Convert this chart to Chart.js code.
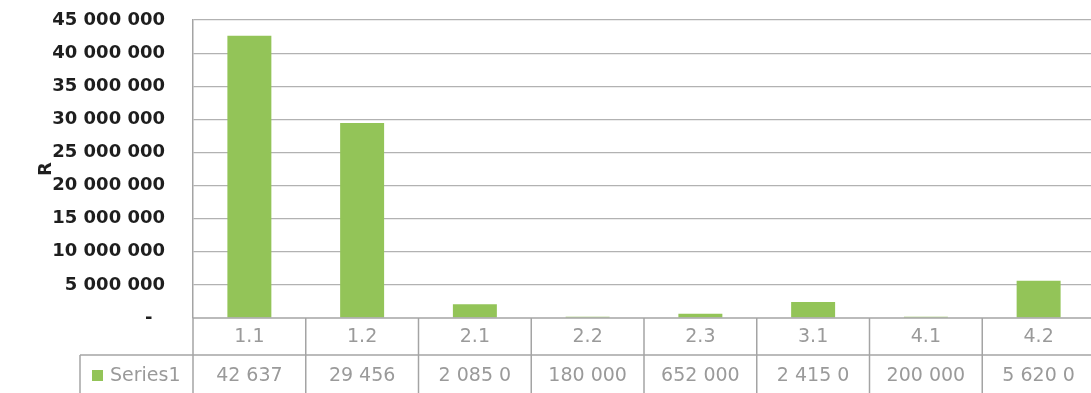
<!DOCTYPE html>
<html>
<head>
<meta charset="utf-8">
<script src="https://cdn.jsdelivr.net/npm/chart.js@4.4.1/dist/chart.umd.min.js"></script>
<style>
  html, body { margin: 0; padding: 0; background: #fff; overflow: hidden; }
  #wrap { width: 1100px; height: 393px; }
</style>
</head>
<body>
<div id="wrap"><canvas id="costChart" width="1100" height="393"></canvas></div>
<script>
// ================= DATA =================

const categories = ["1.1", "1.2", "2.1", "2.2", "2.3", "3.1", "4.1", "4.2"];
const seriesName = "Series1";
const seriesValues = [42637000, 29456000, 2085000, 180000, 652000, 2415000, 200000, 5620000];
const yTicks = [0, 5000000, 10000000, 15000000, 20000000, 25000000, 30000000, 35000000, 40000000, 45000000];

const barColor = "#93c458";
const lineColor = "#a4a4a4";
const tableText = "#9a9a9a";

// thousands separated by spaces, e.g. 5 000 000
function fmt(v) {
  return String(v).replace(/\B(?=(\d{3})+(?!\d))/g, " ");
}

// cut a cell text down until it fits, like a narrow spreadsheet column
function fitText(ctx, text, maxW) {
  let t = text;
  while (t.length > 1 && ctx.measureText(t).width > maxW) {
    t = t.slice(0, -1).trimEnd();
  }
  return t;
}

// ================= DATA TABLE UNDER THE AXIS =================

const dataTable = {
  id: "dataTable",
  afterDraw(chart) {
    const { ctx, chartArea } = chart;
    const x = chart.scales.x;
    const n = categories.length;
    const colW = (x.right - x.left) / n;
    const row1Top = chartArea.bottom;
    const row2Top = row1Top + 37;
    const bottom = chart.height;
    const keyLeft = 80;

    const line = (x1, y1, x2, y2) => {
      ctx.beginPath();
      ctx.moveTo(x1, y1);
      ctx.lineTo(x2, y2);
      ctx.stroke();
    };

    ctx.save();
    ctx.strokeStyle = lineColor;
    ctx.lineWidth = 1.5;
    line(x.left, row1Top, x.right, row1Top);
    line(keyLeft, row2Top, x.right, row2Top);
    for (let i = 0; i <= n; i++) {
      const xi = x.left + i * colW;
      line(xi, row1Top, xi, bottom);
    }
    line(keyLeft, row2Top, keyLeft, bottom);

    ctx.font = "19px 'DejaVu Sans'";
    ctx.fillStyle = tableText;
    ctx.textAlign = "center";
    ctx.textBaseline = "middle";
    categories.forEach((c, i) => {
      ctx.fillText(c, x.getPixelForValue(i), row1Top + 19);
    });
    seriesValues.forEach((v, i) => {
      ctx.fillText(fitText(ctx, fmt(v), 81), x.getPixelForValue(i), row2Top + 21);
    });

    // legend key + series name in the first cell
    ctx.fillStyle = barColor;
    ctx.fillRect(keyLeft + 12, row2Top + 15, 11, 11);
    ctx.fillStyle = tableText;
    ctx.textAlign = "left";
    ctx.fillText(seriesName, keyLeft + 30, row2Top + 21);
    ctx.restore();
  }
};

// ================= CHART =================

const ctx = document.getElementById("costChart").getContext("2d");
const costChart = new Chart(ctx, {
  type: "bar",
  data: {
    labels: categories,
    datasets: [{
      label: seriesName,
      data: seriesValues,
      backgroundColor: barColor,
      borderWidth: 0,
      categoryPercentage: 1,
      barPercentage: 0.39
    }]
  },
  options: {
    responsive: false,
    devicePixelRatio: 1,
    animation: false,
    layout: { padding: { left: 30, top: 20, right: 5, bottom: 75 } },
    plugins: {
      legend: { display: false },
      tooltip: { enabled: false }
    },
    scales: {
      x: { display: false },
      y: {
        min: 0,
        max: 45000000,
        afterBuildTicks: (scale) => { scale.ticks = yTicks.map(v => ({ value: v })); },
        afterFit: (scale) => {
          scale.width = 163;
          // let the layout padding alone decide where the plot starts
          scale.paddingTop = 0;
          scale.paddingBottom = 0;
        },
        ticks: {
          padding: 28,
          color: "#1e1e1e",
          font: { family: "DejaVu Sans", size: 18, weight: "bold" },
          callback: (v) => v === 0 ? "-  " : fmt(v)
        },
        grid: {
          drawTicks: false,
          lineWidth: 1.2,
          color: (c) => c.tick.value === 0 ? "rgba(0,0,0,0)" : "#b2b2b2"
        },
        border: { display: true, color: lineColor, width: 1.5 },
        title: {
          display: true,
          text: "R",
          color: "#1e1e1e",
          padding: { top: 6, bottom: 0 },
          font: { family: "DejaVu Sans", size: 18, weight: "bold" }
        }
      }
    }
  },
  plugins: [dataTable]
});
</script>
</body>
</html>
